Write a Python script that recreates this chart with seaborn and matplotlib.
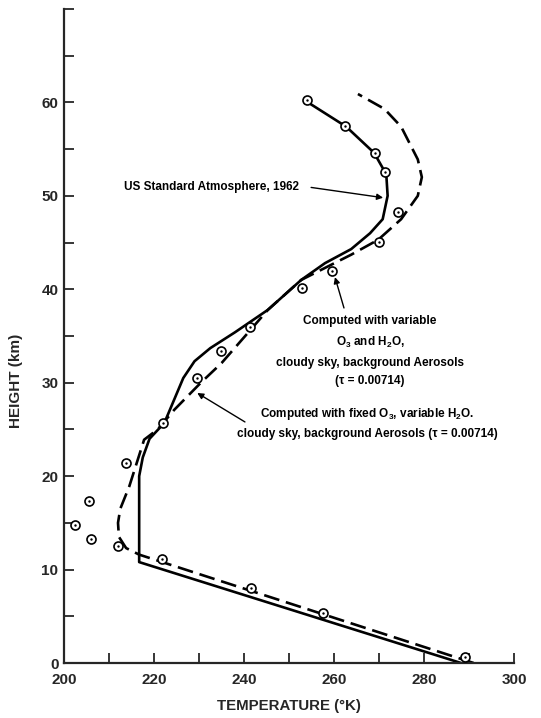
import numpy as np
import pandas as pd
import matplotlib.pyplot as plt
import seaborn as sns

# US Standard Atmosphere 1962 (solid)
std_temp = [288.2, 216.7, 216.7, 217.5, 219.0, 222.3, 226.5, 229.0, 232.5, 238.0, 245.3,
            252.7, 258.0, 263.8, 268.0, 270.8, 271.9, 271.6, 268.9, 262.7, 254.2]
std_height = [0, 10.8, 20.0, 22.0, 24.0, 25.7, 30.5, 32.3, 33.7, 35.4, 37.8,
              41.0, 42.8, 44.3, 46.0, 47.5, 50.0, 52.3, 54.6, 57.4, 60.0]

# computed with fixed O3, variable H2O (dashed)
fix_temp = [291.0, 216.7, 213.8, 212.2, 212.0, 212.5, 214.5, 217.8, 220.8, 224.5,
            230.4, 235.0, 240.8, 245.3, 252.7, 263.8, 269.8, 274.9, 278.6, 279.5,
            278.6, 274.9, 271.2, 265.3]
fix_height = [0, 11.6, 12.3, 13.5, 15.0, 16.5, 18.9, 23.9, 25.0, 27.1,
              30.0, 32.1, 35.3, 37.8, 41.0, 43.7, 45.3, 47.5, 50.0, 52.0,
              53.9, 57.4, 59.3, 60.9]

# computed with variable O3 and H2O (circles)
var_temp = [289.0, 257.6, 241.6, 221.8, 211.9, 205.9, 202.4, 205.6, 213.8, 222.0,
            229.6, 234.8, 241.3, 252.9, 259.6, 270.0, 274.2, 271.4, 269.1, 262.4, 254.0]
var_height = [0.6, 5.4, 8.0, 11.1, 12.5, 13.3, 14.8, 17.3, 21.4, 25.7,
              30.5, 33.4, 36.0, 40.1, 42.0, 45.1, 48.3, 52.5, 54.6, 57.5, 60.3]

sns.set_style('ticks')
plt.rcParams['font.family'] = ['Liberation Sans', 'DejaVu Sans']
plt.rcParams['font.weight'] = 'bold'
plt.rcParams['mathtext.fontset'] = 'custom'
plt.rcParams['mathtext.rm'] = 'Liberation Sans:bold'

fig = plt.figure(figsize=(5.41, 7.18), dpi=100)
ax = fig.add_axes([0.1183, 0.0766, 0.832, 0.9109])

sns.lineplot(x=std_temp, y=std_height, sort=False, estimator=None,
             color='black', lw=1.9, ax=ax)
sns.lineplot(x=fix_temp, y=fix_height, sort=False, estimator=None,
             color='black', lw=1.9, linestyle=(0, (6, 2.6)), ax=ax)
sns.scatterplot(x=var_temp, y=var_height, s=42, marker='o', facecolor='white',
                edgecolor='black', linewidth=1.2, zorder=5, ax=ax)
sns.scatterplot(x=var_temp, y=var_height, s=3, marker='o', color='black',
                linewidth=0, zorder=6, ax=ax)

ax.set_xlim(200, 300)
ax.set_ylim(0, 70)
ax.set_xticks(np.arange(200, 301, 10))
ax.set_xticklabels([str(v) if v % 20 == 0 else '' for v in range(200, 301, 10)])
ax.set_yticks(np.arange(0, 71, 5))
ax.set_yticklabels([str(v) if v % 10 == 0 and v < 70 else '' for v in range(0, 71, 5)])
ax.tick_params(direction='in', length=7, width=1.3, labelsize=11)
ax.tick_params(axis='x', pad=7)
ax.tick_params(axis='y', pad=4)
for lab in ax.get_xticklabels() + ax.get_yticklabels():
    lab.set_fontweight('bold')

sns.despine(ax=ax)
ax.spines['left'].set_linewidth(1.6)
ax.spines['bottom'].set_linewidth(1.6)

ax.set_xlabel('TEMPERATURE (\u00b0K)', fontsize=10.8, fontweight='bold')
ax.set_ylabel('HEIGHT (km)', fontsize=11, fontweight='bold')
ax.xaxis.set_label_coords(0.5, -0.055)
ax.yaxis.set_label_coords(-0.09, 0.431)

ann = dict(fontsize=8.5, fontweight='bold', color='black')
arrow = dict(arrowstyle='-|>', color='black', lw=1.0, mutation_scale=9,
             shrinkA=0, shrinkB=0)

ax.text(252.3, 50.9, 'US Standard Atmosphere, 1962', ha='right', va='center', **ann)
ax.annotate('', xy=(270.9, 49.8), xytext=(254.9, 50.9), arrowprops=arrow)

ax.text(268.0, 33.4, 'Computed with variable\nO$\\mathregular{_3}$ and H$\\mathregular{_2}$O,\n'
        'cloudy sky, background Aerosols\n(\u03c4 = 0.00714)',
        ha='center', va='center', linespacing=1.75, **ann)
ax.annotate('', xy=(260.2, 41.3), xytext=(262.2, 38.0), arrowprops=arrow)

ax.text(267.3, 25.7, 'Computed with fixed O$\\mathregular{_3}$, variable H$\\mathregular{_2}$O.\n'
        'cloudy sky, background Aerosols (\u03c4 = 0.00714)',
        ha='center', va='center', linespacing=1.75, **ann)
ax.annotate('', xy=(229.6, 28.9), xytext=(240.2, 25.8), arrowprops=arrow)

plt.savefig('out.png', dpi=100, facecolor='white')
